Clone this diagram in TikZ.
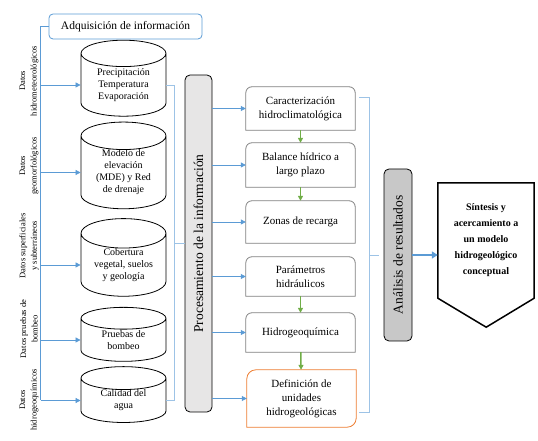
\documentclass[tikz,border=0pt]{standalone}
\usepackage{fontspec}
\setmainfont{Liberation Serif}
\usetikzlibrary{shapes.geometric,arrows.meta}
\definecolor{azul}{RGB}{91,155,213}
\definecolor{azulclaro}{RGB}{157,195,230}
\definecolor{verde}{RGB}{112,173,71}
\definecolor{naranja}{RGB}{237,125,49}
\definecolor{grisborde}{RGB}{127,127,127}
\definecolor{grisbarra}{RGB}{231,230,230}
\definecolor{grisanalisis}{RGB}{200,200,200}
\begin{document}
\begin{tikzpicture}[x=1pt, y=1pt, >={Triangle[length=5pt,width=5pt]},
    datos/.style={cylinder, shape border rotate=90, aspect=0.5, draw, thick, minimum width=85pt, align=center, inner sep=0pt, font=\fontsize{10}{12}\selectfont},
    etiqueta/.style={rotate=90, align=center, font=\fontsize{8.5}{11.5}\selectfont},
    barra/.style={rotate=90, draw, thick, rounded corners=5pt, font=\fontsize{13.5}{16}\selectfont},
    paso/.style={minimum width=109pt, align=center, font=\fontsize{11}{14}\selectfont},
    pasoborde/.style={draw=grisborde, thick},
    linea/.style={azul, thick},
    flecha/.style={->, azul, thick},
    sigue/.style={->, verde, line width=1.5pt},
    llave/.style={azulclaro, thick}]
    \useasboundingbox (0,0) rectangle (538,441);

    % 信息获取
    \node[draw=azul, thick, rounded corners=4pt, minimum width=153pt, minimum height=25pt, font=\fontsize{11.5}{14}\selectfont] (adq) at (125.5,414.5) {Adquisición de información};
    \coordinate (bus) at (40.7,40.5);
    \draw[linea] (adq.west) -| (bus);

    % 数据库
    \node[datos, minimum height=76pt] (c1) at (123.5,356) {Precipitación\\Temperatura\\Evaporación};
    \node[datos, minimum height=79pt] (c2) at (123.5,268.5) {Modelo de\\elevación\\(MDE) y Red\\de drenaje};
    \node[datos, minimum height=76pt] (c3) at (123.5,176) {Cobertura\\vegetal, suelos\\y geología};
    \node[datos, minimum height=54pt] (c4) at (123.5,101) {Pruebas de\\bombeo};
    \node[datos, minimum height=53pt] (c5) at (123.5,40.5) {Calidad del\\agua};
    \foreach \n in {c1,c2,c3,c4,c5}
        \draw[flecha] (bus |- \n.west) -- (\n.west);

    % 左侧标签
    \node[etiqueta] (e1) at (29,360) {Datos\\hidrometeorológicos};
    \node[etiqueta] (e2) at (29,275) {Datos\\geomorfológicos};
    \node[etiqueta] (e3) at (29,195) {Datos superficiales\\y subterráneos};
    \node[etiqueta] (e4) at (29,112) {Datos pruebas de\\bombeo};
    \node[etiqueta] (e5) at (29,41) {Datos\\hidrogeoquímicos};

    % 处理
    \node[barra, fill=grisbarra, minimum width=337pt, minimum height=27pt] (proc) at (198.5,197.5) {Procesamiento de la información};
    \draw[llave] (c1.east) -- ++(8,0) |- (c5.east);
    \draw[llave] (proc.north) -- ++(-11,0);

    % 步骤
    \node[paso, minimum height=43pt] (b1) at (300.5,332.5) {Caracterización\\hidroclimatológica};
    \node[paso, minimum height=44pt] (b2) at (300.5,276) {Balance hídrico a\\largo plazo};
    \node[paso, minimum height=42pt] (b3) at (300.5,219) {Zonas de recarga};
    \node[paso, minimum height=39pt] (b4) at (300.5,164.5) {Parámetros\\hidráulicos};
    \node[paso, minimum height=39pt] (b5) at (300.5,108.5) {Hidrogeoquímica};
    \node[paso, minimum height=57pt] (b6) at (301.5,42.5) {Definición de\\unidades\\hidrogeológicas};
    \foreach \n in {b1,b2,b3,b4,b5}
        \draw[pasoborde] (\n.south west) [rounded corners=6pt] -- (\n.north west) -- (\n.north east) [sharp corners] -- (\n.south east) -- cycle;
    \draw[naranja, thick] (b6.north east) [rounded corners=9pt] -- (b6.north west) [sharp corners] -- (b6.south west) [rounded corners=9pt] -- (b6.south east) [sharp corners] -- cycle;
    \foreach \n in {b1,b2,b3,b4,b5,b6}
        \draw[flecha] (proc.south |- \n.west) -- (\n.west);
    \draw[sigue] (b1) -- (b2);
    \draw[sigue] (b2) -- (b3);
    \draw[sigue] (b4) -- (b5);
    \draw[sigue] (b5) -- (b6);

    % 结果分析
    \node[barra, fill=grisanalisis, minimum width=172pt, minimum height=28pt] (ana) at (398,186) {Análisis de resultados};
    \coordinate (rtop) at (369,344);
    \coordinate (rbot) at (369,29);
    \draw[llave] (359,344) -- (rtop) -- (rbot) -- (359,29);
    \draw[llave, shorten >=5pt] (rtop |- ana.north) -- (ana.north);

    % 综合
    \node[minimum width=96pt, minimum height=115pt, align=center, font=\bfseries\fontsize{10}{16}\selectfont] (sint) at (486,200.5) {Síntesis y\\acercamiento a\\un modelo\\hidrogeológico\\conceptual};
    \draw[line width=1.5pt] (sint.north west) -- (sint.north east) -- (sint.south east) -- ++(-48,-29) -- (sint.south west) -- cycle;
    \draw[->, azul, line width=2.5pt, >={Triangle[length=6pt,width=7pt]}] (ana.south) -- (ana.south -| sint.west);
\end{tikzpicture}
\end{document}
